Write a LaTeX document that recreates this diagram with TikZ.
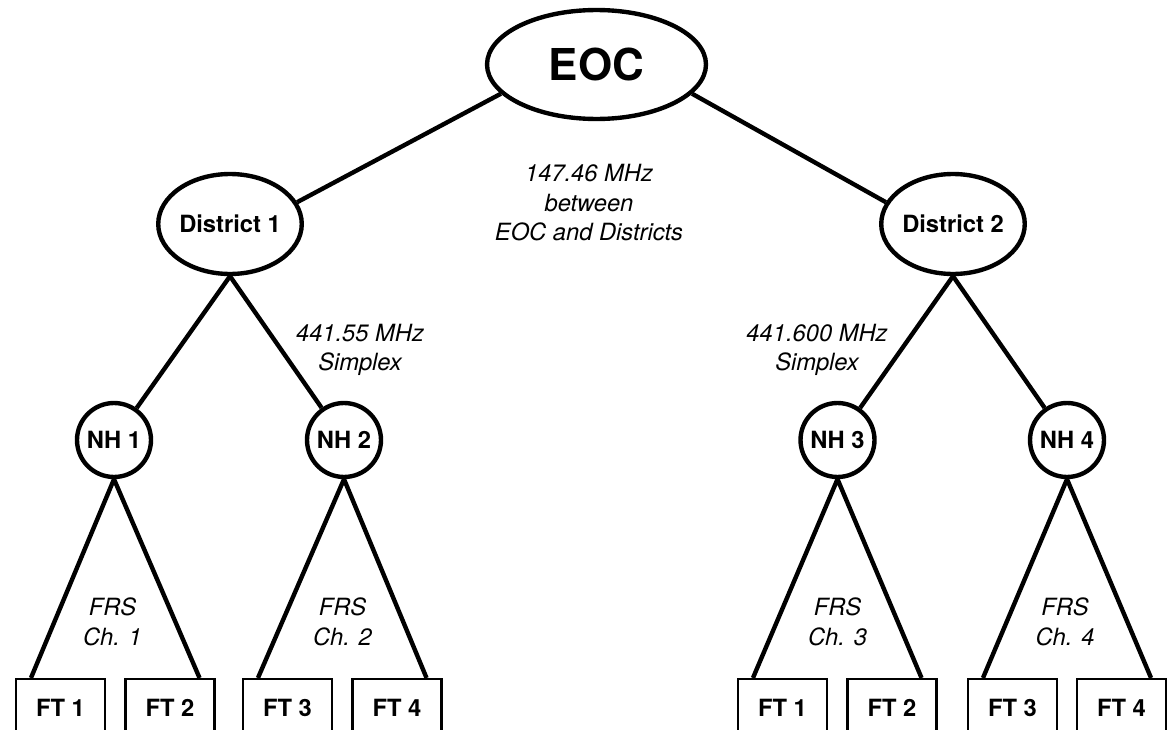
\documentclass[tikz,border=0pt]{standalone}
\usepackage{fontspec}
\setmainfont{TeX Gyre Heros}
\usetikzlibrary{shapes.geometric}

\begin{document}
\begin{tikzpicture}[x=0.02cm, y=-0.02cm,
    hub/.style={draw, ellipse, line width=2.5pt, inner sep=0pt,
        font=\bfseries\fontsize{13.5}{16}\selectfont},
    nh/.style={draw, circle, line width=2.5pt, minimum size=1.48cm, inner sep=0pt,
        font=\bfseries\fontsize{13.5}{16}\selectfont},
    ft/.style={draw, rectangle, line width=1.2pt, minimum width=1.78cm,
        minimum height=1.16cm, inner sep=0pt, font=\bfseries\fontsize{13.5}{16}\selectfont},
    link/.style={line width=2.5pt},
    freq/.style={align=center, font=\itshape\fontsize{13.5}{16.8}\selectfont}]

    \clip (0,0) rectangle (1173,730);

    % Top and districts
    \node[hub, minimum width=4.38cm, minimum height=2.18cm,
        font=\bfseries\fontsize{25}{30}\selectfont] (EOC) at (596.5,64.5) {EOC};
    \node[hub, minimum width=2.84cm, minimum height=2.0cm] (D1) at (230,224) {District 1};
    \node[hub, minimum width=2.84cm, minimum height=2.0cm] (D2) at (953,224) {District 2};

    % Neighbourhood hubs
    \foreach \n/\x in {1/114, 2/344, 3/837.5, 4/1067}
        \node[nh] (NH\n) at (\x,440) {NH \n};

    % Field teams
    \foreach \n/\x in {1/60.5, 2/170, 3/287.5, 4/397}
        \node[ft] (FTL\n) at (\x,708) {FT \n};
    \foreach \n/\x in {1/782.5, 2/892, 3/1012.5, 4/1121.5}
        \node[ft] (FTR\n) at (\x,708) {FT \n};

    % Links
    \draw[link] (EOC.197) -- (D1.18);
    \draw[link] (EOC.343) -- (D2.162);
    \draw[link] (D1.south) -- (NH1) (D1.south) -- (NH2);
    \draw[link] (D2.south) -- (NH3) (D2.south) -- (NH4);
    \foreach \a/\b/\c in {NH1/FTL1/FTL2, NH2/FTL3/FTL4, NH3/FTR1/FTR2, NH4/FTR3/FTR4}
        \draw[link] (\a.south) -- ([xshift=0.32cm]\b.north west)
                    (\a.south) -- ([xshift=-0.32cm]\c.north east);

    % Frequencies
    \node[freq] (f0) at (589,203) {147.46 MHz\\between\\EOC and Districts};
    \node[freq] (f1) at (360,350) {441.55 MHz\\Simplex};
    \node[freq] (f2) at (817,350) {441.600 MHz\\Simplex};
    \foreach \n/\x in {1/112.5, 2/342.5, 3/837.5, 4/1065}
        \node[freq] (frs\n) at (\x,622) {FRS\\Ch. \n};
\end{tikzpicture}
\end{document}
